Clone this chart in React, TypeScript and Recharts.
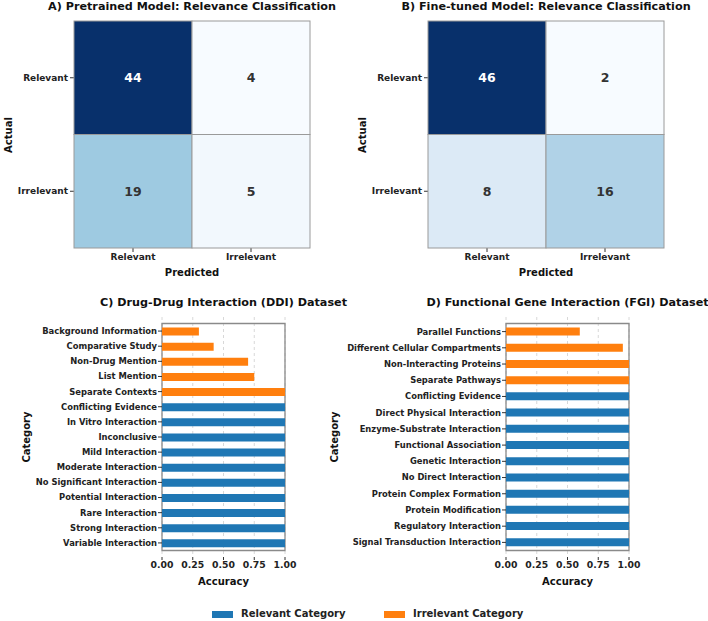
import React from "react";
import {
  ScatterChart,
  Scatter,
  BarChart,
  Bar,
  Cell,
  XAxis,
  YAxis,
  CartesianGrid,
  ReferenceArea,
} from "recharts";

const FONT = '"DejaVu Sans", Verdana, sans-serif';
const BLUE = "#1f77b4";
const ORANGE = "#ff7f0e";

// confusion matrices: rows = actual, cols = predicted
const LABELS = ["Relevant", "Irrelevant"];
const PRETRAINED = [
  [44, 4],
  [19, 5],
];
const FINETUNED = [
  [46, 2],
  [8, 16],
];

const DDI_CATS = [
  "Background Information",
  "Comparative Study",
  "Non-Drug Mention",
  "List Mention",
  "Separate Contexts",
  "Conflicting Evidence",
  "In Vitro Interaction",
  "Inconclusive",
  "Mild Interaction",
  "Moderate Interaction",
  "No Significant Interaction",
  "Potential Interaction",
  "Rare Interaction",
  "Strong Interaction",
  "Variable Interaction",
];
const DDI_ACC = [0.3, 0.42, 0.7, 0.75, 1, 1, 1, 1, 1, 1, 1, 1, 1, 1, 1];
const DDI_IRRELEVANT = 5;

const FGI_CATS = [
  "Parallel Functions",
  "Different Cellular Compartments",
  "Non-Interacting Proteins",
  "Separate Pathways",
  "Conflicting Evidence",
  "Direct Physical Interaction",
  "Enzyme-Substrate Interaction",
  "Functional Association",
  "Genetic Interaction",
  "No Direct Interaction",
  "Protein Complex Formation",
  "Protein Modification",
  "Regulatory Interaction",
  "Signal Transduction Interaction",
];
const FGI_ACC = [0.6, 0.95, 1, 1, 1, 1, 1, 1, 1, 1, 1, 1, 1, 1];
const FGI_IRRELEVANT = 4;

const ACC_TICKS = [0, 0.25, 0.5, 0.75, 1];

// matplotlib "Blues"
const BLUES = ["#f7fbff", "#deebf7", "#c6dbef", "#9ecae1", "#6baed6", "#4292c6", "#2171b5", "#08519c", "#08306b"];

function hex(c: string) {
  return [1, 3, 5].map((i) => parseInt(c.slice(i, i + 2), 16));
}

function blues(t: number) {
  const p = Math.max(0, Math.min(1, t)) * (BLUES.length - 1);
  const i = Math.min(Math.floor(p), BLUES.length - 2);
  const f = p - i;
  const a = hex(BLUES[i]);
  const b = hex(BLUES[i + 1]);
  const m = a.map((v, k) => Math.round(v + (b[k] - v) * f));
  return `rgb(${m[0]},${m[1]},${m[2]})`;
}

const HM_W = 354;
const HM_H = 285;
const HM_PLOT_W = 236;
const HM_PLOT_H = 227;
const HM_AXIS_W = 74;
const HM_TOP = 21;
const TITLE_SIZE = 11.2;

const labelStyle: React.CSSProperties = {
  position: "absolute",
  fontFamily: FONT,
  fontWeight: "bold",
  color: "#111",
  whiteSpace: "nowrap",
  lineHeight: 1,
  transform: "translate(-50%, -50%)",
};

// plain single-line tick so long category names don't wrap
function Tick({ x, y, payload, textAnchor, size, dy, fmt }: any) {
  return (
    <text
      x={x}
      y={y}
      dy={dy}
      textAnchor={textAnchor}
      fontFamily={FONT}
      fontWeight="bold"
      fontSize={size}
      fill="#222"
    >
      {fmt ? fmt(payload.value) : payload.value}
    </text>
  );
}

function Heatmap({ matrix, left, title }: { matrix: number[][]; left: number; title: string }) {
  const flat = matrix.flat();
  const lo = Math.min(...flat);
  const hi = Math.max(...flat);
  const cells = matrix.flatMap((row, i) =>
    row.map((count, j) => ({ actual: LABELS[i], pred: LABELS[j], count }))
  );
  const cw = HM_PLOT_W / 2;
  const ch = HM_PLOT_H / 2;
  const renderCell = (props: any) => {
    const { cx, cy, payload } = props;
    const t = (payload.count - lo) / (hi - lo);
    return (
      <g>
        <rect x={cx - cw / 2} y={cy - ch / 2} width={cw} height={ch} fill={blues(t)} stroke="#9a9a9a" strokeWidth={1} />
        <text
          x={cx}
          y={cy}
          textAnchor="middle"
          dominantBaseline="central"
          fontFamily={FONT}
          fontWeight="bold"
          fontSize={12.5}
          fill={t > 0.6 ? "#ffffff" : "#333333"}
        >
          {payload.count}
        </text>
      </g>
    );
  };
  const cx = left + HM_AXIS_W + HM_PLOT_W / 2;
  return (
    <>
      <div style={{ position: "absolute", left, top: 0 }}>
        <ScatterChart
          width={HM_W}
          height={HM_H}
          margin={{ top: HM_TOP, right: HM_W - HM_AXIS_W - HM_PLOT_W, bottom: 0, left: 0 }}
        >
          <XAxis
            type="category"
            dataKey="pred"
            allowDuplicatedCategory={false}
            height={HM_H - HM_TOP - HM_PLOT_H}
            axisLine={false}
            tickSize={4}
            tickMargin={2}
            tickLine={{ stroke: "#333" }}
            tick={(p: any) => <Tick {...p} size={9} dy="0.71em" />}
          />
          <YAxis
            type="category"
            dataKey="actual"
            allowDuplicatedCategory={false}
            width={HM_AXIS_W}
            reversed
            axisLine={false}
            tickSize={4}
            tickMargin={2}
            tickLine={{ stroke: "#333" }}
            tick={(p: any) => <Tick {...p} size={9} dy="0.35em" />}
          />
          <Scatter data={cells} shape={renderCell} isAnimationActive={false} />
        </ScatterChart>
      </div>
      <div style={{ ...labelStyle, left: cx, top: 7, fontSize: TITLE_SIZE }}>{title}</div>
      <div style={{ ...labelStyle, left: left + 9, top: HM_TOP + HM_PLOT_H / 2, fontSize: 10, transform: "translate(-50%, -50%) rotate(-90deg)" }}>
        Actual
      </div>
      <div style={{ ...labelStyle, left: cx, top: 273, fontSize: 10 }}>Predicted</div>
    </>
  );
}

function AccuracyBars({
  cats,
  acc,
  irrelevant,
  left,
  axisW,
  width,
  labelX,
  title,
}: {
  cats: string[];
  acc: number[];
  irrelevant: number;
  left: number;
  axisW: number;
  width: number;
  labelX: number;
  title: string;
}) {
  const top = 300;
  const height = 290;
  const plotTop = 17;
  const plotH = 240;
  const plotW = 123;
  const data = cats.map((name, i) => ({ name, acc: acc[i], irrelevant: i < irrelevant }));
  const cx = left + axisW + plotW / 2;
  return (
    <>
      <div style={{ position: "absolute", left, top }}>
        <BarChart
          layout="vertical"
          width={width}
          height={height}
          data={data}
          margin={{ top: plotTop, right: width - axisW - plotW, bottom: 0, left: 0 }}
        >
          <CartesianGrid horizontal={false} strokeDasharray="3 3" stroke="#d8d8d8" />
          <XAxis
            type="number"
            domain={[0, 1]}
            ticks={ACC_TICKS}
            interval={0}
            height={height - plotTop - plotH}
            axisLine={false}
            tickSize={3}
            tickMargin={1}
            tickLine={{ stroke: "#333" }}
            tick={(p: any) => <Tick {...p} size={9.3} dy="0.71em" fmt={(v: number) => v.toFixed(2)} />}
          />
          <YAxis
            type="category"
            dataKey="name"
            width={axisW}
            interval={0}
            padding={{ top: 6.5, bottom: 6.5 }}
            axisLine={false}
            tickSize={4}
            tickMargin={1}
            tickLine={{ stroke: "#333" }}
            tick={(p: any) => <Tick {...p} size={8.4} dy="0.35em" />}
          />
          <Bar dataKey="acc" barSize={8} isAnimationActive={false}>
            {data.map((d) => (
              <Cell key={d.name} fill={d.irrelevant ? ORANGE : BLUE} />
            ))}
          </Bar>
          <ReferenceArea x1={0} x2={1} fill="none" stroke="#8a8a8a" strokeWidth={1.3} ifOverflow="visible" />
        </BarChart>
      </div>
      <div style={{ ...labelStyle, left: cx, top: 303, fontSize: TITLE_SIZE }}>{title}</div>
      <div style={{ ...labelStyle, left: cx, top: 582, fontSize: 10 }}>Accuracy</div>
      <div
        style={{
          ...labelStyle,
          left: labelX,
          top: top + plotTop + plotH / 2,
          fontSize: 10,
          transform: "translate(-50%, -50%) rotate(-90deg)",
        }}
      >
        Category
      </div>
    </>
  );
}

export default function App() {
  return (
    <div style={{ position: "absolute", left: 0, top: 0, width: 708, height: 621, background: "#fff" }}>
      <Heatmap matrix={PRETRAINED} left={0} title="A) Pretrained Model: Relevance Classification" />
      <Heatmap matrix={FINETUNED} left={354} title="B) Fine-tuned Model: Relevance Classification" />
      <AccuracyBars
        cats={DDI_CATS}
        acc={DDI_ACC}
        irrelevant={DDI_IRRELEVANT}
        left={0}
        axisW={162}
        width={300}
        labelX={27}
        title="C) Drug-Drug Interaction (DDI) Dataset"
      />
      <AccuracyBars
        cats={FGI_CATS}
        acc={FGI_ACC}
        irrelevant={FGI_IRRELEVANT}
        left={325}
        axisW={181}
        width={320}
        labelX={335}
        title="D) Functional Gene Interaction (FGI) Dataset"
      />
      <div
        style={{
          position: "absolute",
          top: 609,
          left: 0,
          width: 708,
          fontFamily: FONT,
          fontWeight: "bold",
          fontSize: 10,
          lineHeight: "10px",
          color: "#222",
        }}
      >
        <span style={{ position: "absolute", left: 212, top: 1.5, width: 21, height: 7, background: BLUE }} />
        <span style={{ position: "absolute", left: 241, top: 0 }}>Relevant Category</span>
        <span style={{ position: "absolute", left: 384, top: 1.5, width: 21, height: 7, background: ORANGE }} />
        <span style={{ position: "absolute", left: 413, top: 0 }}>Irrelevant Category</span>
      </div>
    </div>
  );
}
